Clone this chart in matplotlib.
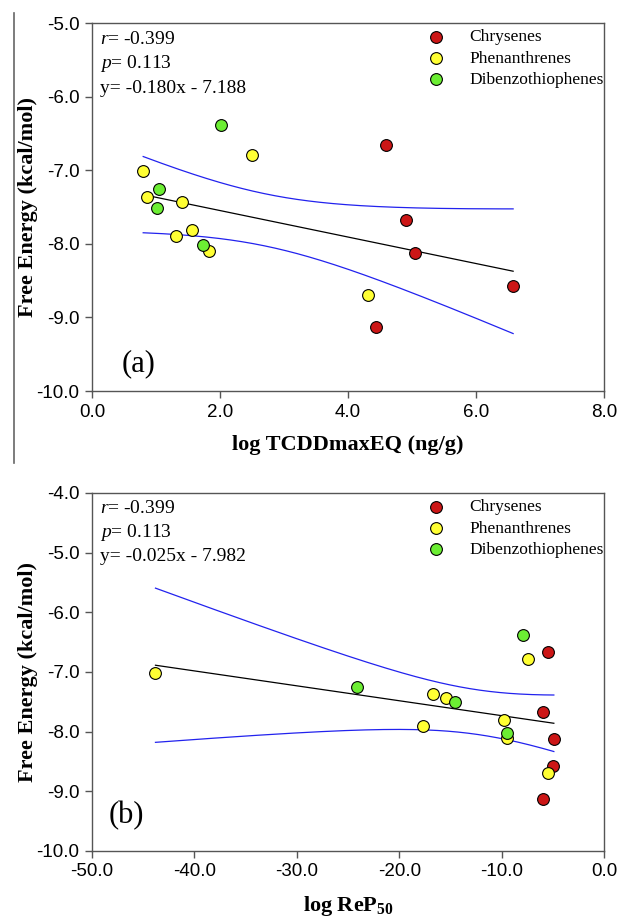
import numpy as np
import matplotlib
matplotlib.use("Agg")
import matplotlib.pyplot as plt
from matplotlib.lines import Line2D

plt.rcParams['axes.unicode_minus'] = False
plt.rcParams['mathtext.fontset'] = 'custom'
plt.rcParams['mathtext.rm'] = 'Liberation Serif'
plt.rcParams['mathtext.it'] = 'Liberation Serif:italic'
plt.rcParams['mathtext.bf'] = 'Liberation Serif:bold'

# binding free energies (kcal/mol) per compound class
chry_energy = [-6.66, -7.67, -8.13, -8.58, -9.13]
phen_energy = [-7.01, -6.79, -7.37, -7.43, -7.90, -7.81, -8.10, -8.69]
dbt_energy = [-6.38, -7.26, -7.51, -8.02]

# log TCDDmaxEQ (ng/g)
chry_tcdd = [4.60, 4.90, 5.05, 6.58, 4.43]
phen_tcdd = [0.80, 2.50, 0.86, 1.40, 1.32, 1.57, 1.83, 4.31]
dbt_tcdd = [2.01, 1.04, 1.02, 1.73]

# log ReP50
chry_rep = [-5.48, -5.91, -4.90, -5.02, -5.98]
phen_rep = [-43.8, -7.41, -16.7, -15.4, -17.7, -9.73, -9.46, -5.48]
dbt_rep = [-7.92, -24.1, -14.6, -9.46]

# regression results shown on each panel
fit_a = (-0.180, -7.188)
fit_b = (-0.025, -7.982)
stats_r = -0.399
stats_p = 0.113

groups = ['Chrysenes', 'Phenanthrenes', 'Dibenzothiophenes']
colors = ['#CC1616', '#FFFF33', '#6CEE33']
energies = [chry_energy, phen_energy, dbt_energy]

serif = 'Liberation Serif'
sans = 'Liberation Sans'


def conf_band(x, y, slope, icept, xs, t=2.131):
    # 95% confidence interval of the regression mean
    x = np.asarray(x)
    y = np.asarray(y)
    n = len(x)
    resid = y - (slope * x + icept)
    s = np.sqrt(np.sum(resid ** 2) / (n - 2))
    sxx = np.sum((x - x.mean()) ** 2)
    half = t * s * np.sqrt(1.0 / n + (xs - x.mean()) ** 2 / sxx)
    fit = slope * xs + icept
    return fit - half, fit + half


def draw_panel(ax, xdata, fit, xlim, ylim, xstep, xlabel, tag, tag_xy):
    allx = np.concatenate(xdata)
    ally = np.concatenate(energies)
    xs = np.linspace(allx.min(), allx.max(), 200)
    lo, hi = conf_band(allx, ally, fit[0], fit[1], xs)
    ax.plot(xs, fit[0] * xs + fit[1], color='black', lw=0.9, zorder=2)
    ax.plot(xs, hi, color='#2222EE', lw=0.9, zorder=2)
    ax.plot(xs, lo, color='#2222EE', lw=0.9, zorder=2)

    for xv, yv, c, name in zip(xdata, energies, colors, groups):
        ax.scatter(xv, yv, s=72, c=c, edgecolors='black', linewidths=0.8,
                   zorder=3, label=name)

    ax.set_xlim(*xlim)
    ax.set_ylim(*ylim)
    ax.set_xticks(np.arange(xlim[0], xlim[1] + 0.01, xstep))
    ax.set_yticks(np.arange(ylim[0], ylim[1] + 0.01, 1.0))
    ax.xaxis.set_major_formatter(lambda v, pos: f"{v:.1f}")
    ax.yaxis.set_major_formatter(lambda v, pos: f"{v:.1f}")
    ax.tick_params(direction='out', length=5, width=1, color='#555555',
                   labelsize=13.5, pad=4, top=False, right=False)
    for lab in ax.get_xticklabels() + ax.get_yticklabels():
        lab.set_fontfamily(sans)
    for sp in ax.spines.values():
        sp.set_color('#555555')
        sp.set_linewidth(1.0)

    ax.set_ylabel('Free Energy (kcal/mol)', fontfamily=serif,
                  fontweight='bold', fontsize=16)
    ax.yaxis.set_label_coords(-0.106, 0.5)
    ax.set_xlabel(xlabel, fontfamily=serif, fontweight='bold', fontsize=16)
    ax.xaxis.set_label_coords(0.5, -0.12)

    eq = f"y= {fit[0]:.3f}x - {abs(fit[1]):.3f}"
    lines = [r"$\it{r}$" + f"= {stats_r:.3f}",
             r"$\it{p}$" + f"= {stats_p:.3f}",
             eq]
    for i, txt in enumerate(lines):
        ax.text(0.016, 1 - (16 + 24 * i) / 362, txt, transform=ax.transAxes,
                fontfamily=serif, fontsize=14, va='center', ha='left')

    ax.text(tag_xy[0], tag_xy[1], tag, transform=ax.transAxes,
            fontfamily=serif, fontsize=22, va='center', ha='left')

    leg = ax.legend(loc='upper left', bbox_to_anchor=(0.635, 1.012),
                    frameon=False, prop={'family': serif, 'size': 12.5},
                    handletextpad=1.4, labelspacing=0.3, borderaxespad=0.2,
                    handlelength=1.0)
    return leg


fig = plt.figure(figsize=(6.19, 9.17), dpi=100)
ax_a = fig.add_axes([0.1486, 0.5736, 0.8272, 0.4013])
ax_b = fig.add_axes([0.1486, 0.0720, 0.8272, 0.3904])

draw_panel(ax_a, [chry_tcdd, phen_tcdd, dbt_tcdd], fit_a, (0.0, 8.0),
           (-10.0, -5.0), 2.0, 'log TCDDmaxEQ (ng/g)', '(a)', (0.057, 0.075))
draw_panel(ax_b, [chry_rep, phen_rep, dbt_rep], fit_b, (-50.0, 0.0),
           (-10.0, -4.0), 10.0, r'log ReP$_{\mathbf{50}}$', '(b)',
           (0.033, 0.1))

# thin frame edge along the left of the upper panel
fig.add_artist(Line2D([14 / 619, 14 / 619], [1 - 13 / 917, 1 - 463 / 917],
                      color='#666666', lw=1.2))

fig.savefig('out.png', dpi=100)
